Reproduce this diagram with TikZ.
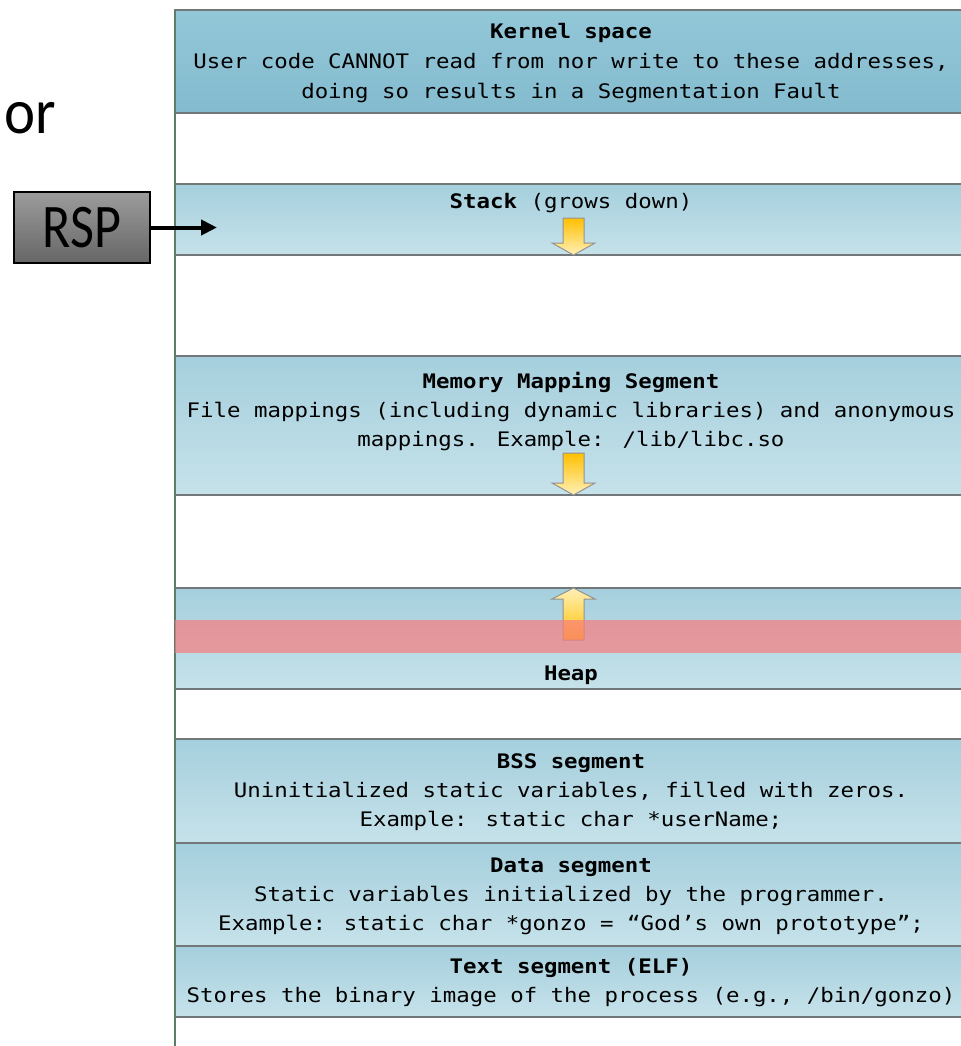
\documentclass[tikz,border=0pt]{standalone}
\usepackage{fontspec}
\setmainfont{Carlito}
\newfontfamily\segfont[FakeStretch=1.12]{DejaVu Sans Mono}
\newfontfamily\orfont[FakeStretch=0.92]{Carlito}
\newfontfamily\regfont[FakeStretch=0.84]{Carlito}
\usetikzlibrary{arrows.meta}
\definecolor{bandtop}{HTML}{A5CFDD}
\definecolor{bandbot}{HTML}{C6E2EA}
\definecolor{kerntop}{HTML}{92C7D8}
\definecolor{kernbot}{HTML}{84BBCE}
\definecolor{bandline}{HTML}{72777A}
\definecolor{axisline}{HTML}{5E7D68}
\definecolor{growdark}{HTML}{FFC000}
\definecolor{growlight}{HTML}{FFF0B8}
\definecolor{overflow}{HTML}{F87C7E}
\definecolor{regtop}{HTML}{9C9C9C}
\definecolor{regbot}{HTML}{666666}
\begin{document}
\begin{tikzpicture}[x=0.5pt,y=-0.5pt,>={Triangle[length=8pt,width=7.5pt]},
	band/.style={draw=bandline,line width=1pt,top color=bandtop,bottom color=bandbot},
	seg/.style={font=\segfont\fontsize{10pt}{14.5pt}\selectfont,align=center,inner sep=0pt},
	growarrow/.style={draw=gray!85,line width=0.5pt}]
	\useasboundingbox (0,0) rectangle (961,1046);

	% address space bands
	\draw[band,top color=kerntop,bottom color=kernbot] (175,10) rectangle (963,113);
	\draw[band] (175,184) rectangle (963,255);
	\draw[band] (175,356) rectangle (963,495);
	\draw[band] (175,588) rectangle (963,689);
	\draw[band] (175,739) rectangle (963,843);
	\draw[band] (175,843) rectangle (963,946);
	\draw[band] (175,946) rectangle (963,1017);
	\draw[axisline,line width=0.7pt] (175,10) -- (175,1046);

	% grow arrows
	\draw[growarrow,top color=growdark,bottom color=growlight] (563,218) -- ++(21,0) -- ++(0,25) -- ++(11,0) -- ++(-21.5,12) -- ++(-21.5,-12) -- ++(11,0) -- cycle;
	\draw[growarrow,top color=growdark,bottom color=growlight] (563,453) -- ++(21,0) -- ++(0,30) -- ++(11,0) -- ++(-21.5,12) -- ++(-21.5,-12) -- ++(11,0) -- cycle;
	\draw[growarrow,top color=growlight,bottom color=growdark] (563,640) -- ++(21,0) -- ++(0,-41) -- ++(11,0) -- ++(-21.5,-11) -- ++(-21.5,11) -- ++(11,0) -- cycle;
	\fill[overflow,opacity=0.7] (175,620) rectangle (963,653);

	\node[seg,font=\segfont\fontsize{10pt}{15pt}\selectfont] (kernel) at (571,63) {\textbf{Kernel space}\\User code CANNOT read from nor write to these addresses,\\doing so results in a Segmentation Fault};
	\node[seg] (stack) at (571,203) {\textbf{Stack} (grows down)};
	\node[seg] (mmap) at (571,412) {\textbf{Memory Mapping Segment}\\File mappings (including dynamic libraries) and anonymous\\mappings. Example: /lib/libc.so};
	\node[seg] (heap) at (571,675) {\textbf{Heap}};
	\node[seg] (bss) at (571,792) {\textbf{BSS segment}\\Uninitialized static variables, filled with zeros.\\Example: static char *userName;};
	\node[seg] (data) at (571,896) {\textbf{Data segment}\\Static variables initialized by the programmer.\\Example: static char *gonzo = “God’s own prototype”;};
	\node[seg] (text) at (571,983) {\textbf{Text segment (ELF)}\\Stores the binary image of the process (e.g., /bin/gonzo)};

	% stack pointer
	\node[anchor=base west,inner sep=0pt,font=\orfont\fontsize{32pt}{36pt}\selectfont] (or) at (4,133) {or};
	\node[draw=black,line width=1.4pt,top color=regtop,bottom color=regbot,minimum width=68pt,minimum height=35.5pt,inner sep=0pt,font=\regfont\fontsize{31pt}{36pt}\selectfont] (rsp) at (82,227.5) {RSP};
	\coordinate (sp) at (217,227.5);
	\draw[->,line width=2pt] (rsp.east) -- (sp);
\end{tikzpicture}
\end{document}
